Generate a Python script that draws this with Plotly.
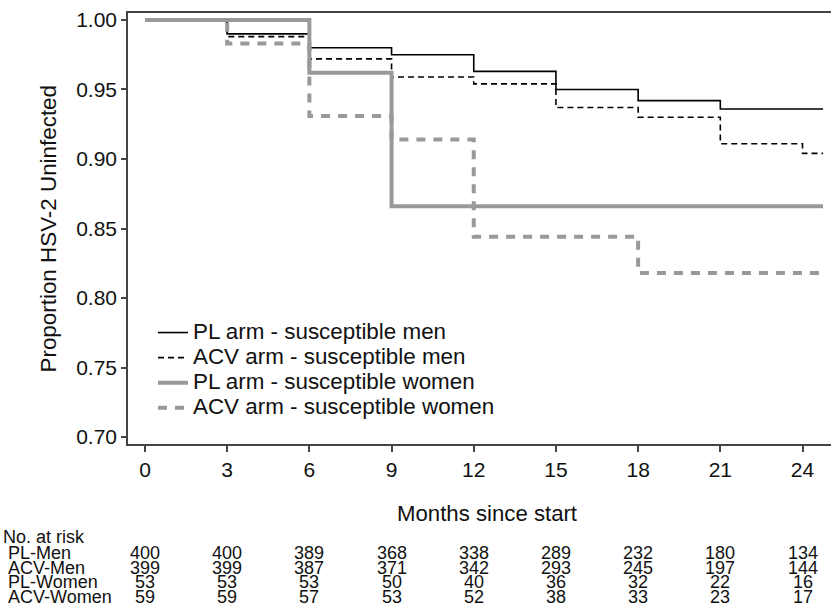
import plotly.graph_objects as go

# ---- data ----
pl_men_t = [0, 3, 6, 9, 12, 15, 18, 21, 24.75]
pl_men_s = [1.000, 0.990, 0.980, 0.975, 0.963, 0.950, 0.942, 0.936, 0.936]

acv_men_t = [0, 3, 6, 9, 12, 15, 18, 21, 24, 24.75]
acv_men_s = [1.000, 0.988, 0.972, 0.959, 0.954, 0.937, 0.930, 0.911, 0.904, 0.904]

pl_women_t = [0, 6, 9, 24.75]
pl_women_s = [1.000, 0.962, 0.866, 0.866]

acv_women_t = [0, 3, 6, 9, 12, 18, 24.75]
acv_women_s = [1.000, 0.983, 0.931, 0.914, 0.844, 0.818, 0.818]

series_names = ["PL arm - susceptible men", "ACV arm - susceptible men",
                "PL arm - susceptible women", "ACV arm - susceptible women"]

months = [0, 3, 6, 9, 12, 15, 18, 21, 24]
y_ticks = [0.70, 0.75, 0.80, 0.85, 0.90, 0.95, 1.00]

risk_labels = ["PL-Men", "ACV-Men", "PL-Women", "ACV-Women"]
risk_pl_men = [400, 400, 389, 368, 338, 289, 232, 180, 134]
risk_acv_men = [399, 399, 387, 371, 342, 293, 245, 197, 144]
risk_pl_women = [53, 53, 53, 50, 40, 36, 32, 22, 16]
risk_acv_women = [59, 59, 57, 53, 52, 38, 33, 23, 17]

FONT = "Liberation Sans, Arial, sans-serif"
GRAY = "#999999"
AX = "#444444"
TXT = "#111111"


def big(s):
    return f'<span style="font-size:22.4px">{s}</span>'


fig = go.Figure()
fig.add_trace(go.Scatter(x=pl_men_t, y=pl_men_s, mode="lines", line_shape="hv",
                         line=dict(color="black", width=1.6), name=big(series_names[0])))
fig.add_trace(go.Scatter(x=acv_men_t, y=acv_men_s, mode="lines", line_shape="hv",
                         line=dict(color="black", width=1.6, dash="6px,4px"), name=big(series_names[1])))
fig.add_trace(go.Scatter(x=pl_women_t, y=pl_women_s, mode="lines", line_shape="hv",
                         line=dict(color=GRAY, width=4), name=big(series_names[2])))
fig.add_trace(go.Scatter(x=acv_women_t, y=acv_women_s, mode="lines", line_shape="hv",
                         line=dict(color=GRAY, width=4, dash="9px,8px"), name=big(series_names[3])))

L, T, B = 128, 13, 444
W_PLOT = 831 - L
H_PLOT = B - T


def px_x(p):
    return (p - L) / W_PLOT


def px_y(p):
    return (B - p) / H_PLOT


fig.update_layout(
    width=831, height=608,
    margin=dict(l=L, r=0, t=T, b=608 - B, pad=0),
    paper_bgcolor="white", plot_bgcolor="white",
    font=dict(family=FONT, color=TXT, size=21),
    showlegend=True,
    legend=dict(x=px_x(153), y=px_y(315), xanchor="left", yanchor="top",
                bgcolor="rgba(0,0,0,0)", font=dict(size=17.0, family=FONT, color=TXT),
                itemwidth=30, tracegroupgap=0),
    xaxis=dict(range=[-0.62, 25.04], tickmode="array", tickvals=months,
               ticktext=[str(m) for m in months],
               showgrid=False, zeroline=False, showline=True, linecolor=AX, linewidth=1.5,
               mirror=True, ticks="outside", ticklen=6, tickwidth=1.5, tickcolor=AX,
               tickfont=dict(size=21)),
    yaxis=dict(range=[0.695, 1.005], tickmode="array", tickvals=y_ticks,
               ticktext=[f"{v:.2f}" for v in y_ticks],
               showgrid=False, zeroline=False, showline=True, linecolor=AX, linewidth=1.5,
               ticks="outside", ticklen=5, tickwidth=1.5, tickcolor=AX,
               tickfont=dict(size=21)),
)

# axis titles
fig.add_annotation(text="Proportion HSV-2 Uninfected", textangle=-90, xref="paper", yref="paper",
                   x=px_x(48), y=0.5, xanchor="center", yanchor="middle", showarrow=False,
                   font=dict(size=22.4))
fig.add_annotation(text="Months since start", xref="paper", yref="paper",
                   x=px_x(487), y=px_y(513), xanchor="center", yanchor="middle", showarrow=False,
                   font=dict(size=22.2))

# number at risk table
TS = 18
row_y = [553, 568, 582, 597]
fig.add_annotation(text="No. at risk", xref="paper", yref="paper", x=px_x(1), y=px_y(537),
                   xanchor="left", yanchor="middle", showarrow=False, font=dict(size=TS))
for lab, yy, vals in zip(risk_labels, row_y,
                         [risk_pl_men, risk_acv_men, risk_pl_women, risk_acv_women]):
    fig.add_annotation(text=lab, xref="paper", yref="paper", x=px_x(6), y=px_y(yy),
                       xanchor="left", yanchor="middle", showarrow=False, font=dict(size=TS))
    for m, v in zip(months, vals):
        fig.add_annotation(text=str(v), xref="x", yref="paper", x=m, y=px_y(yy),
                           xanchor="center", yanchor="middle", showarrow=False, font=dict(size=TS))

fig.write_html("out.html", config={"displayModeBar": False},
               post_script="document.body.style.margin='0';")
